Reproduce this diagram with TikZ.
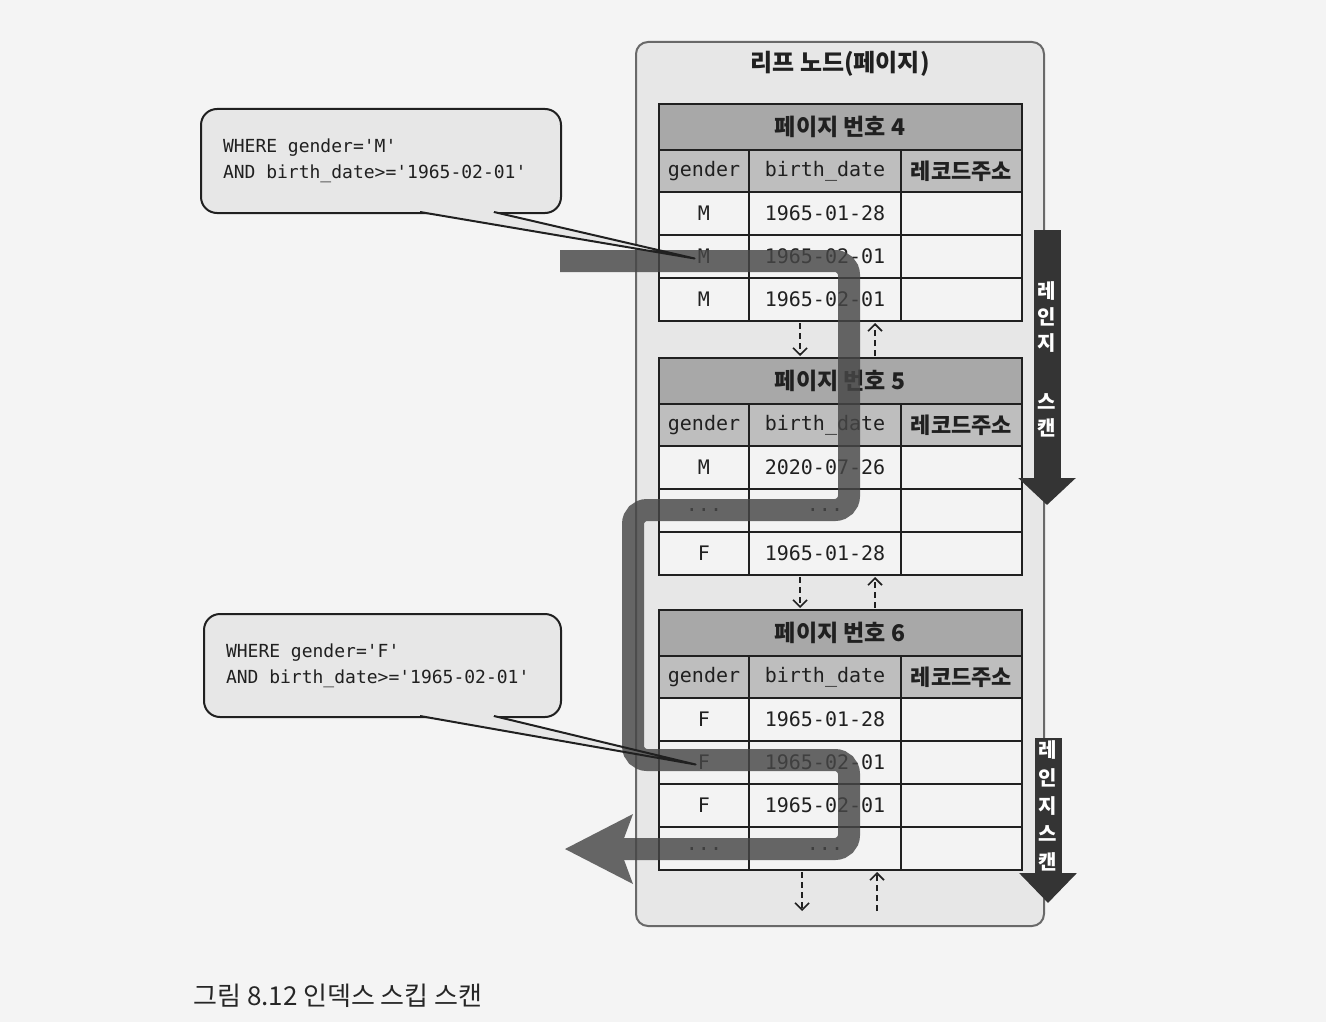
\documentclass[tikz,border=0pt]{standalone}
\usepackage{fontspec}
\setmonofont{DejaVu Sans Mono}
\newfontfamily\kr{Noto Sans CJK KR}
\usetikzlibrary{arrows.meta,calc}
\definecolor{pagebg}{RGB}{244,244,244}
\definecolor{boxfill}{RGB}{231,231,231}
\definecolor{boxline}{RGB}{105,105,105}
\definecolor{cellfill}{RGB}{243,243,243}
\definecolor{headfill}{RGB}{168,168,168}
\definecolor{colfill}{RGB}{190,190,190}
\definecolor{pathgray}{RGB}{70,70,70}
\definecolor{scangray}{RGB}{52,52,52}
\definecolor{inkgray}{RGB}{32,32,32}
\newcommand{\ellip}{...}
\newcommand{\monosp}{\hspace*{0.6em}}

\begin{document}
\begin{tikzpicture}[x=0.5pt, y=-0.5pt,
    every node/.style={inner sep=0pt, text=inkgray},
    cell/.style={draw=inkgray, line width=1pt},
    celltext/.style={font=\ttfamily\fontsize{10}{12}\selectfont},
    krtext/.style={font=\kr\bfseries\fontsize{11}{13}\selectfont},
    linkarrow/.style={inkgray, densely dashed, line width=0.8pt,
      -{Straight Barb[length=3.5pt,width=7pt]}},
    skippath/.style={pathgray, line width=11pt, rounded corners=7pt},
    scanarrow/.style={scangray, line width=13.5pt},
    scantext/.style={font=\kr\bfseries\fontsize{10}{13}\selectfont, text=white, align=center},
    callout/.style={draw=inkgray, fill=boxfill, line width=1pt, rounded corners=8pt,
      anchor=north west, inner xsep=11pt, align=left,
      font=\ttfamily\fontsize{9}{13}\selectfont}]
  \useasboundingbox (0,0) rectangle (1326,1022);
  \fill[pagebg] (0,0) rectangle (1326,1022);

  % --- leaf node box ---
  \draw[boxline, fill=boxfill, line width=1pt, rounded corners=6pt] (636,42) rectangle (1044,926);
  \node[font=\kr\bfseries\fontsize{12}{14}\selectfont] (leaf) at (840,64) {리프 노드(페이지)};

  % --- page headers ---
  \foreach \pg/\ty/\n in {4/104/3, 5/358/3, 6/610/4}{
    \coordinate (p\pg-top) at (840,\ty);
    \coordinate (p\pg-bot) at (840,\ty+88+\n*43);
    \filldraw[cell, fill=headfill] (659,\ty) rectangle (1022,\ty+46);
    \node[krtext, font=\kr\bfseries\fontsize{11.5}{13}\selectfont] (p\pg-head) at (840,\ty+23) {페이지 번호 \pg};
    \filldraw[cell, fill=colfill] (659,\ty+46) rectangle (749,\ty+88);
    \filldraw[cell, fill=colfill] (749,\ty+46) rectangle (901,\ty+88);
    \filldraw[cell, fill=colfill] (901,\ty+46) rectangle (1022,\ty+88);
    \node[celltext] (p\pg-cg) at (704,\ty+67) {gender};
    \node[celltext] (p\pg-cd) at (825,\ty+67) {birth\_date};
    \node[krtext] (p\pg-ca) at (961.5,\ty+67) {레코드주소};
  }
  % --- index rows ---
  \foreach \pg/\ty/\k/\g/\d in {4/104/1/M/1965-01-28, 4/104/2/M/1965-02-01, 4/104/3/M/1965-02-01,
                                5/358/1/M/2020-07-26, 5/358/2/\ellip/\ellip, 5/358/3/F/1965-01-28,
                                6/610/1/F/1965-01-28, 6/610/2/F/1965-02-01, 6/610/3/F/1965-02-01,
                                6/610/4/\ellip/\ellip}{
    \pgfmathsetmacro{\ry}{\ty+88+(\k-1)*43}
    \filldraw[cell, fill=cellfill] (659,\ry) rectangle (749,\ry+43);
    \filldraw[cell, fill=cellfill] (749,\ry) rectangle (901,\ry+43);
    \filldraw[cell, fill=cellfill] (901,\ry) rectangle (1022,\ry+43);
    \node[celltext] (p\pg-g\k) at (704,\ry+21.5) {\g};
    \node[celltext] (p\pg-d\k) at (825,\ry+21.5) {\d};
  }

  % --- sibling page links ---
  \foreach \a/\b in {4/5, 5/6}{
    \draw[linkarrow] ($(p\a-bot)+(-40,2)$) -- ($(p\b-top)+(-40,-2)$);
    \draw[linkarrow] ($(p\b-top)+(35,-2)$) -- ($(p\a-bot)+(35,2)$);
  }
  \coordinate (next) at (840,911);
  \draw[linkarrow] ($(p6-bot)+(-38,2)$) -- ($(next)+(-38,0)$);
  \draw[linkarrow] ($(next)+(37,0)$) -- ($(p6-bot)+(37,2)$);

  % --- query callouts ---
  \node[callout, minimum width=180pt, minimum height=52pt, text width=158pt]
    (qm) at (200,108) {WHERE\monosp gender='M'\\AND\monosp birth\_date>='1965-02-01'};
  \node[callout, minimum width=178.5pt, minimum height=51.5pt, text width=156.5pt]
    (qf) at (203,613) {WHERE\monosp gender='F'\\AND\monosp birth\_date>='1965-02-01'};
  \coordinate (qm-a) at (420,212);
  \coordinate (qm-b) at (494,212);
  \coordinate (qm-tip) at ($(p4-g2.west)+(-3,2)$);
  \coordinate (qf-a) at (420,716);
  \coordinate (qf-b) at (494,716);
  \coordinate (qf-tip) at ($(p6-g2.west)+(-2,2)$);
  \fill[boxfill] ($(qm-a)+(2,-4)$) -- ($(qm-a)+(2,0)$) -- (qm-tip) -- ($(qm-b)+(-2,0)$) -- ($(qm-b)+(-2,-4)$) -- cycle;
  \fill[boxfill] ($(qf-a)+(2,-4)$) -- ($(qf-a)+(2,0)$) -- (qf-tip) -- ($(qf-b)+(-2,0)$) -- ($(qf-b)+(-2,-4)$) -- cycle;

  % --- skip scan path ---
  \coordinate (sk-start) at (560,261);
  \coordinate (sk-end) at (565,849);
  \begin{scope}[transparency group, opacity=0.82]
    \draw[skippath, -{Stealth[length=34pt,width=35pt,inset=6.5pt,line width=0pt]}]
      (sk-start) -- (849,261) -- (849,510) -- (633,510) -- (633,760)
      -- (849,760) -- (849,849) -- (sk-end);
  \end{scope}

  % --- callout pointers ---
  \draw[inkgray, line width=1pt, line join=round] (qm-a) -- (qm-tip) -- (qm-b);
  \draw[inkgray, line width=1pt, line join=round] (qf-a) -- (qf-tip) -- (qf-b);

  % --- range scan arrows ---
  \coordinate (scan1s) at (1047,230);
  \coordinate (scan1e) at (1047,505);
  \coordinate (scan2s) at (1048,738);
  \coordinate (scan2e) at (1048,903);
  \draw[scanarrow, -{Triangle[length=13.5pt,width=28pt]}] (scan1s) -- (scan1e);
  \draw[scanarrow, -{Triangle[length=15pt,width=28pt]}] (scan2s) -- (scan2e);
  \node[scantext] (scan1t) at (1047,359) {레\\인\\지\\[16.5pt]스\\캔};
  \node[scantext, font=\kr\bfseries\fontsize{10}{14}\selectfont] (scan2t) at (1048,806) {레\\인\\지\\스\\캔};

  % --- caption ---
  \node[anchor=west, font=\kr\fontsize{13}{15}\selectfont, text=black!85] (caption) at (193,996)
    {그림 8.12 인덱스 스킵 스캔};
\end{tikzpicture}
\end{document}
